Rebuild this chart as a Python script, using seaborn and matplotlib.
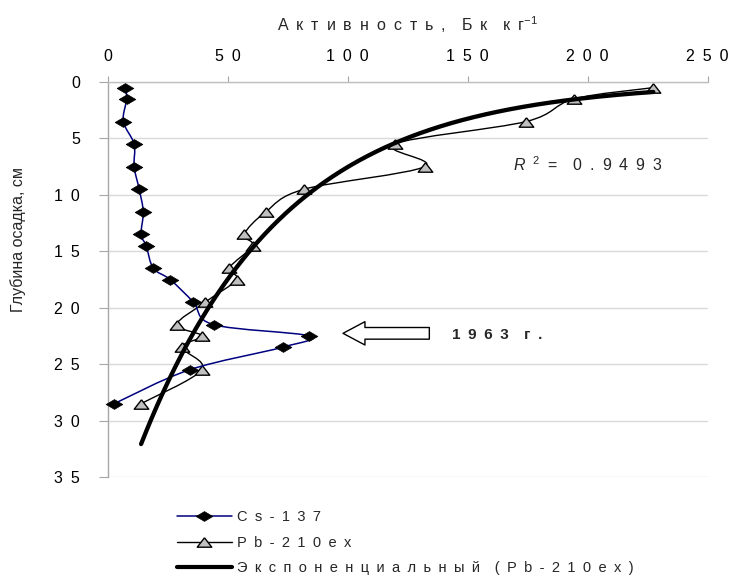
import numpy as np
import pandas as pd
import matplotlib
matplotlib.use("Agg")
import matplotlib.pyplot as plt
import seaborn as sns
from matplotlib.path import Path
from matplotlib.patches import PathPatch
from matplotlib.lines import Line2D

# ---------------- data ----------------
depth = [0.5, 1.5, 3.5, 5.5, 7.5, 9.5, 11.5, 13.5, 14.5, 16.5, 17.5,
         19.5, 21.5, 22.5, 23.5, 25.5, 28.5]
cs137 = [7.1, 7.8, 6.4, 10.9, 10.9, 13.0, 14.7, 13.8, 15.9, 18.9, 25.9,
         35.6, 44.0, 84.0, 72.8, 34.0, 2.6]
pb210ex = [227.4, 194.3, 174.4, 119.5, 132.0, 81.8, 65.8, 56.8, 60.3, 50.5, 53.7,
           40.6, 28.7, 39.1, 30.8, 39.1, 13.8]
x_ticks = [0, 50, 100, 150, 200, 250]
y_ticks = [0, 5, 10, 15, 20, 25, 30, 35]
series_labels = ["Cs-137", "Pb-210ex", "Экспоненциальный (Pb-210ex)"]
x_title = "Активность, Бк кг"
y_title = "Глубина осадка, см"
r2_value = "0.9493"
event_label = "1963 г."

# ---------------- style ----------------
sns.set_style("white")
plt.rcParams["font.family"] = ["Liberation Sans", "DejaVu Sans"]
plt.rcParams["mathtext.fontset"] = "custom"
plt.rcParams["mathtext.rm"] = "Liberation Sans"
plt.rcParams["mathtext.it"] = "Liberation Sans:italic"
plt.rcParams["mathtext.default"] = "regular"

G = "\u2002"


def spaced(s):
    return (G + G).join(G.join(w) for w in s.split(" "))


diamond = [(0, 1), (1.7, 0), (0, -1), (-1.7, 0), (0, 1)]
triangle = [(0, 1), (1.55, -1), (-1.55, -1), (0, 1)]


def smooth_path(xs, ys):
    pts = np.column_stack([xs, ys]).astype(float)
    n = len(pts)
    verts = [pts[0]]
    codes = [Path.MOVETO]
    for i in range(n - 1):
        p0 = pts[i - 1] if i > 0 else pts[i]
        p1 = pts[i]
        p2 = pts[i + 1]
        p3 = pts[i + 2] if i + 2 < n else pts[i + 1]
        c1 = p1 + (p2 - p0) / 6.0
        c2 = p2 - (p3 - p1) / 6.0
        verts += [c1, c2, p2]
        codes += [Path.CURVE4] * 3
    return Path(verts, codes)


W, H = 729, 577
fig = plt.figure(figsize=(W / 100, H / 100), dpi=100)
ax = fig.add_axes([108 / W, 1 - 477 / H, (707.5 - 108) / W, (477 - 82) / H])

df = pd.DataFrame({"depth": depth, "cs": cs137, "pb": pb210ex})

# Pb-210ex smoothed line + markers
ax.add_patch(PathPatch(smooth_path(df["pb"], df["depth"]), fill=False,
                       ec="black", lw=1.0, zorder=3))
sns.scatterplot(data=df, x="pb", y="depth", marker=triangle, s=10.5 ** 2,
                color="#C0C0C0", edgecolor="black", linewidth=1.0, ax=ax,
                zorder=4, clip_on=False)

# Cs-137 smoothed line + markers
ax.add_patch(PathPatch(smooth_path(df["cs"], df["depth"]), fill=False,
                       ec="#000080", lw=1.1, zorder=5))
sns.scatterplot(data=df, x="cs", y="depth", marker=diamond, s=12 ** 2,
                color="black", edgecolor="black", linewidth=0.5, ax=ax,
                zorder=6, clip_on=False)

# exponential trend line (fit of depth = a*exp(b*activity))
b, lna = np.polyfit(np.array(pb210ex), np.log(np.array(depth)), 1)
xs = np.linspace(min(pb210ex), max(pb210ex), 300)
trend = pd.DataFrame({"x": xs, "y": np.exp(lna + b * xs)})
sns.lineplot(data=trend, x="x", y="y", color="black", lw=3.1, ax=ax, zorder=7)

# axes
ax.set_xlim(0, 250)
ax.set_ylim(35, 0)
ax.xaxis.tick_top()
ax.set_xticks(x_ticks, [spaced(str(t)) for t in x_ticks])
ax.set_yticks(y_ticks, [spaced(str(t)) for t in y_ticks])
ax.set_xlabel("")
ax.set_ylabel("")
ax.tick_params(axis="x", top=True, bottom=False, labeltop=True, labelbottom=False,
               length=4.3, width=0.8, color="#A6A6A6", pad=8.5, labelsize=11.5,
               labelcolor="black", direction="out")
ax.tick_params(axis="y", left=True, length=6.5, width=0.8, color="#A6A6A6",
               pad=13.7, labelsize=11.5, labelcolor="black", direction="out")
ax.grid(axis="y", color="#D9D9D9", lw=1.0)
ax.grid(axis="x", visible=False)
for s in ["right", "bottom"]:
    ax.spines[s].set_visible(False)
ax.spines["top"].set_color("#BFBFBF")
ax.spines["left"].set_color("#A6A6A6")
ax.spines["top"].set_linewidth(1.0)
ax.spines["left"].set_linewidth(1.0)

# titles
fig.text(407.5 / W, 1 - 31 / H, spaced(x_title) + r"$^{-1}$", ha="center",
         va="baseline", fontsize=11.5)
fig.text(18 / W, 1 - 240 / H, y_title, rotation=90, ha="center", va="center",
         fontsize=11.5)

# R^2 annotation
ax.text(168.7, 7.9, r"$\mathit{R}$" + G + r"$^{2}$" + G + "=" + G + G + G.join(r2_value),
        ha="left", va="baseline", fontsize=11.5)

# 1963 arrow + label
ax.annotate("", xy=(98.0, 22.27), xytext=(134.0, 22.27),
            arrowprops=dict(arrowstyle="simple,head_length=1.58,head_width=1.68,tail_width=0.84",
                            fc="white", ec="black", lw=1.0, shrinkA=0, shrinkB=0,
                            mutation_scale=10))
ax.text(143.6, 22.8, spaced(event_label), ha="left", va="baseline",
        fontsize=11, fontweight="bold")

# legend
handles = [
    Line2D([], [], color="#000080", lw=1.1, marker=diamond, markersize=12,
           mfc="black", mec="black", mew=0.5),
    Line2D([], [], color="black", lw=1.0, marker=triangle, markersize=10.5,
           mfc="#C0C0C0", mec="black", mew=1.0),
    Line2D([], [], color="black", lw=3.0),
]
fig.legend(handles, [spaced(l) for l in series_labels], loc="upper left",
           bbox_to_anchor=(177 / W, 1 - 510 / H), frameon=False, fontsize=10.5,
           handlelength=3.77, handletextpad=0.35, labelspacing=0.8,
           borderpad=0, borderaxespad=0, numpoints=1)

fig.savefig("out.png", dpi=100)
